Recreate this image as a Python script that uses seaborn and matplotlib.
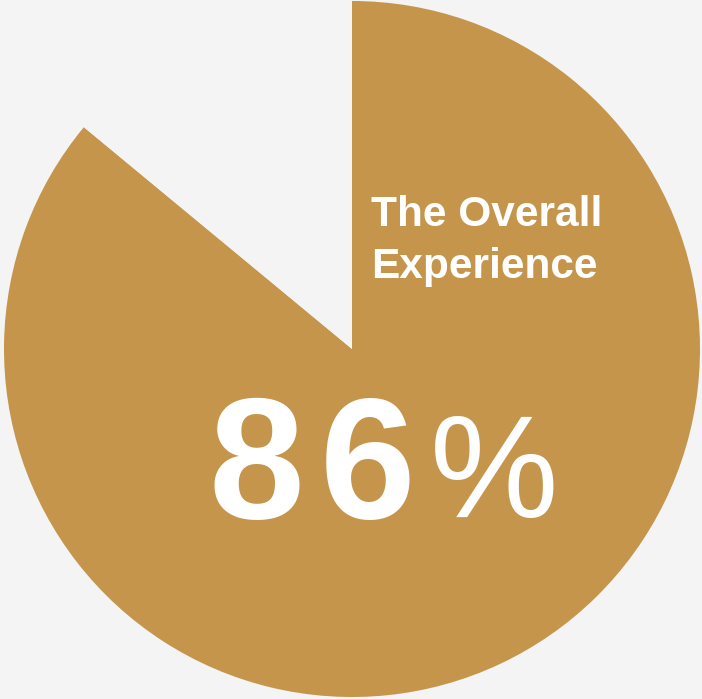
import matplotlib
matplotlib.use("Agg")
import matplotlib.pyplot as plt
import seaborn as sns

# Share of respondents satisfied with the overall experience
labels = ["Satisfied", "Other"]
shares = [86, 14]
title_lines = ["The Overall", "Experience"]
headline = "86"

sns.set_theme(style="white")
plt.rcParams["font.family"] = ["Liberation Sans", "DejaVu Sans"]

BG = "#f4f4f4"
GOLD = "#c5954b"

W, H = 702, 699
fig = plt.figure(figsize=(W / 100, H / 100), dpi=100, facecolor=BG)
ax = fig.add_axes([0, 0, 1, 1])
ax.set_facecolor(BG)

cx, cy, r = 352, 349, 348
ax.pie(shares, colors=[GOLD, BG], startangle=90, counterclock=False,
       radius=1, center=(0, 0), wedgeprops=dict(linewidth=0))
ax.set_xlim(-cx / r, (W - cx) / r)
ax.set_ylim(-(H - cy) / r, cy / r)
ax.set_aspect("equal")
ax.axis("off")


def px(x, y):
    return x / W, 1 - y / H


for i, line in enumerate(title_lines):
    fig.text(*px(371, 226 + 52 * i), line, color="white", fontsize=30.5,
             fontweight="bold", ha="left", va="baseline")

fig.text(*px(208, 518), headline[0], color="white", fontsize=124,
         fontweight="bold", ha="left", va="baseline")
fig.text(*px(320, 518), headline[1], color="white", fontsize=124,
         fontweight="bold", ha="left", va="baseline")
fig.text(*px(430, 517), "%", color="white", fontsize=104,
         fontweight="medium", ha="left", va="baseline")

fig.savefig("out.png", dpi=100, facecolor=BG)
